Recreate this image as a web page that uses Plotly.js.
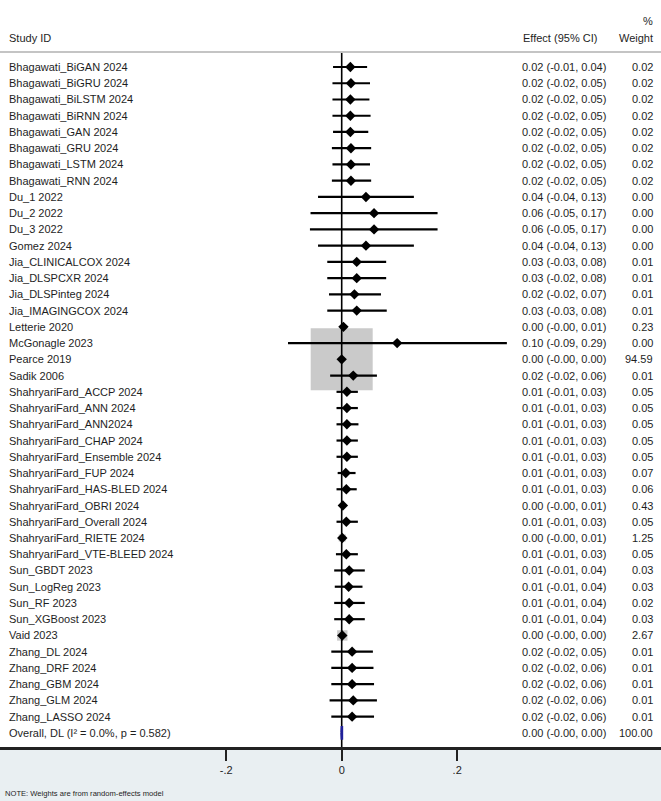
<!DOCTYPE html>
<html>
<head>
<meta charset="utf-8">
<script src="https://cdn.plot.ly/plotly-3.0.1.min.js"></script>
<style>html,body{margin:0;padding:0;background:#fff;}#chart{width:661px;height:801px;}</style>
</head>
<body>
<div id="chart"></div>
<script>
const studies = ["Bhagawati_BiGAN 2024","Bhagawati_BiGRU 2024","Bhagawati_BiLSTM 2024","Bhagawati_BiRNN 2024","Bhagawati_GAN 2024","Bhagawati_GRU 2024","Bhagawati_LSTM 2024","Bhagawati_RNN 2024","Du_1 2022","Du_2 2022","Du_3 2022","Gomez 2024","Jia_CLINICALCOX 2024","Jia_DLSPCXR 2024","Jia_DLSPinteg 2024","Jia_IMAGINGCOX 2024","Letterie 2020","McGonagle 2023","Pearce 2019","Sadik 2006","ShahryariFard_ACCP 2024","ShahryariFard_ANN 2024","ShahryariFard_ANN2024","ShahryariFard_CHAP 2024","ShahryariFard_Ensemble 2024","ShahryariFard_FUP 2024","ShahryariFard_HAS-BLED 2024","ShahryariFard_OBRI 2024","ShahryariFard_Overall 2024","ShahryariFard_RIETE 2024","ShahryariFard_VTE-BLEED 2024","Sun_GBDT 2023","Sun_LogReg 2023","Sun_RF 2023","Sun_XGBoost 2023","Vaid 2023","Zhang_DL 2024","Zhang_DRF 2024","Zhang_GBM 2024","Zhang_GLM 2024","Zhang_LASSO 2024"];
const est = [0.015,0.016,0.015,0.015,0.015,0.016,0.016,0.016,0.042,0.056,0.056,0.042,0.026,0.026,0.022,0.026,0.003,0.096,0.000,0.020,0.009,0.009,0.009,0.009,0.009,0.007,0.008,0.002,0.008,0.001,0.008,0.013,0.012,0.013,0.013,0.001,0.018,0.018,0.018,0.020,0.018];
const lo  = [-0.015,-0.016,-0.016,-0.016,-0.015,-0.017,-0.016,-0.017,-0.041,-0.054,-0.055,-0.041,-0.025,-0.025,-0.022,-0.025,-0.003,-0.093,-0.0005,-0.020,-0.009,-0.009,-0.009,-0.009,-0.009,-0.007,-0.009,-0.002,-0.009,-0.001,-0.010,-0.013,-0.012,-0.013,-0.013,-0.001,-0.018,-0.018,-0.018,-0.021,-0.018];
const hi  = [0.044,0.049,0.048,0.050,0.046,0.051,0.049,0.051,0.125,0.166,0.166,0.125,0.077,0.077,0.068,0.078,0.009,0.286,0.0005,0.061,0.028,0.028,0.029,0.028,0.028,0.024,0.026,0.006,0.028,0.004,0.028,0.040,0.036,0.040,0.040,0.002,0.054,0.055,0.056,0.061,0.056];
const effectText = ["0.02 (-0.01, 0.04)","0.02 (-0.02, 0.05)","0.02 (-0.02, 0.05)","0.02 (-0.02, 0.05)","0.02 (-0.02, 0.05)","0.02 (-0.02, 0.05)","0.02 (-0.02, 0.05)","0.02 (-0.02, 0.05)","0.04 (-0.04, 0.13)","0.06 (-0.05, 0.17)","0.06 (-0.05, 0.17)","0.04 (-0.04, 0.13)","0.03 (-0.03, 0.08)","0.03 (-0.02, 0.08)","0.02 (-0.02, 0.07)","0.03 (-0.03, 0.08)","0.00 (-0.00, 0.01)","0.10 (-0.09, 0.29)","0.00 (-0.00, 0.00)","0.02 (-0.02, 0.06)","0.01 (-0.01, 0.03)","0.01 (-0.01, 0.03)","0.01 (-0.01, 0.03)","0.01 (-0.01, 0.03)","0.01 (-0.01, 0.03)","0.01 (-0.01, 0.03)","0.01 (-0.01, 0.03)","0.00 (-0.00, 0.01)","0.01 (-0.01, 0.03)","0.00 (-0.00, 0.01)","0.01 (-0.01, 0.03)","0.01 (-0.01, 0.04)","0.01 (-0.01, 0.04)","0.01 (-0.01, 0.04)","0.01 (-0.01, 0.04)","0.00 (-0.00, 0.00)","0.02 (-0.02, 0.05)","0.02 (-0.02, 0.06)","0.02 (-0.02, 0.06)","0.02 (-0.02, 0.06)","0.02 (-0.02, 0.06)"];
const weights = [0.02,0.02,0.02,0.02,0.02,0.02,0.02,0.02,0.00,0.00,0.00,0.00,0.01,0.01,0.01,0.01,0.23,0.00,94.59,0.01,0.05,0.05,0.05,0.05,0.05,0.07,0.06,0.43,0.05,1.25,0.05,0.03,0.03,0.02,0.03,2.67,0.01,0.01,0.01,0.01,0.01];
const overallLabel = "Overall, DL (I\u00B2 = 0.0%, p = 0.582)";
const overallEst = 0.0003, overallLo = -0.0003, overallHi = 0.001;
const overallText = "0.00 (-0.00, 0.00)";
const overallWeight = "100.00";
const tickVals = [-0.2, 0, 0.2];
const tickText = ["-.2", "0", ".2"];

const FONT = "Liberation Sans, Arial, Helvetica, sans-serif";
const TXT = "#1e1e1e";
const n = studies.length;
const rows = studies.map((_, i) => i);
const overallRow = n;
const xRange = [-0.5917, 0.5529];
const yRange = [41.87, -0.924];

// grey weight boxes
const maxW = Math.max(...weights);
const boxSizes = weights.map(w => 62 * Math.sqrt(w / maxW));
const traces = [];
traces.push({
  type: 'scatter', mode: 'markers', x: est, y: rows,
  marker: {symbol: 'square', size: boxSizes, color: '#b4b4b4', line: {width: 0}},
  hoverinfo: 'skip', showlegend: false, cliponaxis: false
});
// null line
traces.push({
  type: 'scatter', mode: 'lines', x: [0, 0], y: [yRange[1], yRange[0]],
  line: {color: '#000', width: 1.6}, hoverinfo: 'skip', showlegend: false
});
// CI lines
const cx = [], cy = [];
for (let i = 0; i < n; i++) { cx.push(lo[i], hi[i], null); cy.push(i, i, null); }
traces.push({
  type: 'scatter', mode: 'lines', x: cx, y: cy,
  line: {color: '#000', width: 2.2}, hoverinfo: 'skip', showlegend: false
});
// point estimates
traces.push({
  type: 'scatter', mode: 'markers', x: est, y: rows,
  marker: {symbol: 'diamond', size: 8, color: '#000', line: {width: 0}},
  hoverinfo: 'skip', showlegend: false
});
// overall diamond
traces.push({
  type: 'scatter', mode: 'lines', fill: 'toself',
  x: [overallLo, overallEst, overallHi, overallEst, overallLo],
  y: [overallRow, overallRow - 0.42, overallRow, overallRow + 0.42, overallRow],
  line: {color: '#20209a', width: 2.6}, fillcolor: '#20209a',
  hoverinfo: 'skip', showlegend: false
});

const annotations = [];
const font = {family: FONT, size: 11, color: TXT};
for (let i = 0; i < n; i++) {
  annotations.push({xref: 'paper', x: 7/661, yref: 'y', y: i, text: studies[i], showarrow: false, xanchor: 'left', yanchor: 'middle', font});
  annotations.push({xref: 'paper', x: 520/661, yref: 'y', y: i, text: effectText[i], showarrow: false, xanchor: 'left', yanchor: 'middle', font});
  annotations.push({xref: 'paper', x: 655/661, yref: 'y', y: i, text: weights[i].toFixed(2), showarrow: false, xanchor: 'right', yanchor: 'middle', font});
}
annotations.push({xref: 'paper', x: 7/661, yref: 'y', y: overallRow, text: overallLabel, showarrow: false, xanchor: 'left', yanchor: 'middle', font});
annotations.push({xref: 'paper', x: 520/661, yref: 'y', y: overallRow, text: overallText, showarrow: false, xanchor: 'left', yanchor: 'middle', font});
annotations.push({xref: 'paper', x: 655/661, yref: 'y', y: overallRow, text: overallWeight, showarrow: false, xanchor: 'right', yanchor: 'middle', font});
// headers (plot area: top 52px, height 695px)
const py = px => (747 - px) / 695;
annotations.push({xref: 'paper', x: 7/661, yref: 'paper', y: py(38), text: 'Study ID', showarrow: false, xanchor: 'left', yanchor: 'middle', font});
annotations.push({xref: 'paper', x: 521/661, yref: 'paper', y: py(38), text: 'Effect (95% CI)', showarrow: false, xanchor: 'left', yanchor: 'middle', font});
annotations.push({xref: 'paper', x: 655/661, yref: 'paper', y: py(38), text: 'Weight', showarrow: false, xanchor: 'right', yanchor: 'middle', font});
annotations.push({xref: 'paper', x: 655/661, yref: 'paper', y: py(21), text: '%', showarrow: false, xanchor: 'right', yanchor: 'middle', font});
annotations.push({xref: 'paper', x: 3/661, yref: 'paper', y: py(793), text: 'NOTE: Weights are from random-effects model', showarrow: false, xanchor: 'left', yanchor: 'middle', font: {family: FONT, size: 7.6, color: TXT}});

const layout = {
  width: 661, height: 801,
  margin: {l: 0, r: 0, t: 52, b: 54, pad: 0},
  paper_bgcolor: '#e9eff2', plot_bgcolor: '#ffffff',
  showlegend: false,
  xaxis: {
    range: xRange, tickvals: tickVals, ticktext: tickText,
    ticks: 'outside', ticklen: 11, tickwidth: 2, tickcolor: '#222',
    showline: true, linecolor: '#222', linewidth: 2.5,
    showgrid: false, zeroline: false, fixedrange: true,
    tickfont: {family: FONT, size: 11, color: TXT}
  },
  yaxis: {range: yRange, visible: false, showgrid: false, zeroline: false, fixedrange: true},
  shapes: [
    {type: 'rect', xref: 'paper', yref: 'paper', x0: 0, x1: 1, y0: 1, y1: 1 + 52/695, fillcolor: '#ffffff', line: {width: 0}, layer: 'below'},
    {type: 'line', xref: 'paper', yref: 'paper', x0: 0, x1: 1, y0: 1, y1: 1, line: {color: '#c4c4c4', width: 2}}
  ],
  annotations
};
Plotly.newPlot('chart', traces, layout, {displayModeBar: false, staticPlot: true});
</script>
</body>
</html>
